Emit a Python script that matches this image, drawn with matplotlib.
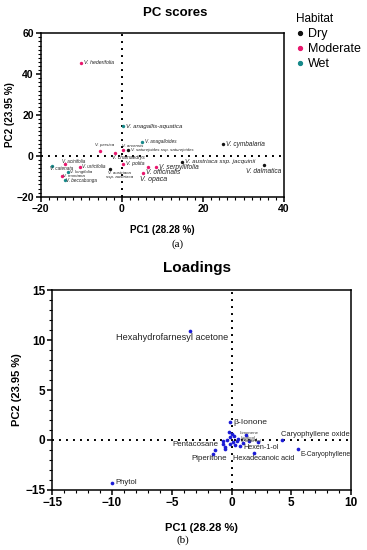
import matplotlib
matplotlib.use('Agg')
import matplotlib.pyplot as plt
import numpy as np
from matplotlib.ticker import MultipleLocator, FixedLocator
from matplotlib.lines import Line2D

plt.rcParams['font.family'] = ['Liberation Sans', 'DejaVu Sans']

# ---- PC scores data ----
sp_names = ['V. hederifolia', 'V. anagallis-aquatica', 'V. anagalloides', 'V. persica',
            'V. arvensis', 'V. saturejoides ssp. saturejoides', 'V. chamaedrys', 'V. polita',
            'V. austriaca\nssp. austriaca', 'V. austriaca ssp. jacquinii', 'V. cymbalaria',
            'V. dalmatica', 'V. serpyllifolia', 'V. officinalis', 'V. opaca', 'V. catenata',
            'V. acinifolia', 'V. urticifolia', 'V. longifolia', 'V. montana', 'V. beccabunga']
sp_x = [-10.0, 0.4, 5.0, -5.5, 0.4, 1.6, -1.6, 0.2, -2.8, 14.8, 24.9, 35.0, 8.5, 6.5, 5.2,
        -17.3, -14.0, -10.4, -13.3, -14.8, -14.1]
sp_y = [45.6, 14.6, 6.6, 2.5, 2.8, 2.8, 1.2, -3.9, -6.2, -2.9, 5.7, -4.7, -5.5, -5.5, -8.6,
        -4.9, -4.2, -5.4, -7.8, -9.8, -11.9]
sp_hab = ['Moderate', 'Wet', 'Wet', 'Moderate', 'Moderate', 'Dry', 'Moderate', 'Moderate',
          'Dry', 'Dry', 'Dry', 'Dry', 'Moderate', 'Moderate', 'Moderate', 'Wet',
          'Moderate', 'Moderate', 'Wet', 'Moderate', 'Wet']
habitats = ['Dry', 'Moderate', 'Wet']

# ---- Loadings data ----
ld_names = ['Hexahydrofarnesyl acetone', 'β-Ionone', 'Caryophyllene oxide', 'E-Caryophyllene',
            'Hexen-1-ol', 'Hexadecanoic acid', 'Pentacosane', 'Piperitone', 'Phytol']
ld_x = [-3.5, -0.1, 4.2, 5.6, 0.7, 1.86, -0.7, -1.54, -10.0]
ld_y = [10.9, 1.8, 0.0, -2.8, -1.9, -3.8, -1.3, -4.2, -13.0]
# unlabelled compounds around the origin
other_x = [0.0, -0.14, -0.42, -0.7, 0.13, 0.42, 0.55, 0.28, -0.14, 2.2, 1.25, -0.56,
           -0.56, -1.4, -0.22, 0.2, 1.5, 0.97]
other_y = [0.6, 0.3, 0.0, -0.3, -0.5, -0.2, 0.1, -1.5, -1.2, -0.5, 0.5, -2.1,
           -2.7, -3.0, 0.8, 0.4, -0.3, -1.0]
small_names = ['Limonene', 'Linalool', 'Nonanal', 'α-Terpineol']
small_x = [0.4, 0.5, 0.6, 0.5]
small_y = [0.7, 0.2, -0.1, -0.3]

colors = {'Dry': '#111111', 'Moderate': '#e8176d', 'Wet': '#16898a'}
blue = '#1b1bd6'

# label layout: (dx, dy) pixels, ha, fontsize
sp_lab = [(3, 0, 'left', 3.8), (3, 0, 'left', 4.4), (3, 1, 'left', 3.3), (5, 5.4, 'center', 3.2),
          (-1.3, 4.3, 'left', 3.2), (2.5, 0, 'left', 3.2), (-3, -4.4, 'left', 3.6),
          (3, 0, 'left', 3.8), (9, -6.4, 'center', 3.2), (3, 0, 'left', 4.5), (3, 0, 'left', 4.7),
          (-0.5, -5.7, 'center', 4.7), (3, 0, 'left', 4.7), (-2, -5.7, 'left', 4.7),
          (-2.6, -6.4, 'left', 5.0), (-1.6, -2.6, 'left', 3.3), (-3, 3.3, 'left', 3.3),
          (2.3, 0, 'left', 3.3), (1.7, -0.6, 'left', 3.2), (1, -0.6, 'left', 3.2),
          (1.7, -0.3, 'left', 3.3)]
ld_lab = [(38.3, -6.7, 'right', 6.6), (3, 0, 'left', 6.1), (-0.7, 6, 'left', 5.4),
          (1.7, -4.7, 'left', 4.9), (3.3, -1, 'left', 5.2), (-21, -5.6, 'left', 5.3),
          (-5, 0, 'right', 5.7), (13.4, -5, 'right', 5.7), (3.3, 0.6, 'left', 5.6)]

fig = plt.figure(figsize=(3.67, 5.5), dpi=100)
dot = (0, (1, 2.6))


def style_axes(ax, fs):
    for s in ax.spines.values():
        s.set_linewidth(1.1)
    ax.tick_params(which='major', direction='out', length=3.5, width=1.1, labelsize=fs, pad=1.5)
    ax.tick_params(which='minor', direction='out', length=2, width=0.8)
    for t in ax.get_xticklabels() + ax.get_yticklabels():
        t.set_fontweight('bold')


# ---------- (a) PC scores ----------
ax1 = fig.add_axes([0.111, 0.6424, 0.663, 0.297])
ax1.axhline(0, color='k', ls=dot, lw=1.4, zorder=1)
ax1.axvline(0, color='k', ls=dot, lw=1.4, zorder=1)
for h in habitats:
    xs = [x for x, hh in zip(sp_x, sp_hab) if hh == h]
    ys = [y for y, hh in zip(sp_y, sp_hab) if hh == h]
    ax1.scatter(xs, ys, s=6, color=colors[h], zorder=3, linewidths=0)
for name, x, y, (dx, dy, ha, fs) in zip(sp_names, sp_x, sp_y, sp_lab):
    ax1.annotate(name, (x, y), xytext=(dx, dy), textcoords='offset pixels', ha=ha,
                 va='center', fontsize=fs, style='italic', color='#222222', zorder=4,
                 linespacing=1.0)
ax1.set_xlim(-20, 40)
ax1.set_ylim(-20, 60)
ax1.set_xticks([-20, 0, 20, 40])
ax1.set_yticks([-20, 0, 20, 40, 60])
ax1.xaxis.set_minor_locator(MultipleLocator(2))
ax1.yaxis.set_minor_locator(MultipleLocator(2))
style_axes(ax1, 7.5)
ax1.set_xlabel('PC1 (28.28 %)', fontsize=7.1, fontweight='bold', labelpad=8)
ax1.set_ylabel('PC2 (23.95 %)', fontsize=7.1, fontweight='bold', labelpad=1)
fig.text(175 / 367, 1 - 13 / 550, 'PC scores', ha='center', va='center', fontsize=9.5,
         fontweight='bold')
handles = [Line2D([], [], ls='', marker='o', ms=2.8, color=colors[h]) for h in habitats]
leg = fig.legend(handles, habitats, title='Habitat', loc='upper left',
                 bbox_to_anchor=(287 / 367, 1 - 4 / 550), frameon=False, fontsize=9,
                 title_fontsize=8.5, handlelength=0.6, handletextpad=0.4, labelspacing=0.25,
                 borderpad=0.2, alignment='left')

fig.text(178 / 367, 1 - 244 / 550, '(a)', ha='center', va='center', fontsize=8,
         family='Liberation Serif')

# ---------- (b) Loadings ----------
def fwd(v):
    v = np.asarray(v, dtype=float)
    return np.where(v < 0, v / 3.0, v)


def inv(u):
    u = np.asarray(u, dtype=float)
    return np.where(u < 0, u * 3.0, u)


ax2 = fig.add_axes([0.1425, 0.1091, 0.814, 0.3636])
ax2.set_yscale('function', functions=(fwd, inv))
ax2.axhline(0, color='k', ls=dot, lw=1.4, zorder=1)
ax2.axvline(0, color='k', ls=dot, lw=1.4, zorder=1)
ax2.scatter(other_x, other_y, s=7, color=blue, zorder=3, linewidths=0)
ax2.scatter(ld_x, ld_y, s=7, color=blue, zorder=3, linewidths=0)
for name, x, y in zip(small_names, small_x, small_y):
    ax2.annotate(name, (x, y), xytext=(3, 0), textcoords='offset pixels', ha='left',
                 va='center', fontsize=3.2, color='#444444', zorder=4)
for name, x, y, (dx, dy, ha, fs) in zip(ld_names, ld_x, ld_y, ld_lab):
    ax2.annotate(name, (x, y), xytext=(dx, dy), textcoords='offset pixels', ha=ha,
                 va='center', fontsize=fs, color='#222222', zorder=4)
ax2.set_xlim(-15, 10)
ax2.set_ylim(-15, 15)
ax2.set_xticks([-15, -10, -5, 0, 5, 10])
ax2.set_yticks([-15, 0, 5, 10, 15])
ax2.xaxis.set_minor_locator(MultipleLocator(1))
ax2.yaxis.set_minor_locator(FixedLocator([-12, -9, -6, -3] +
                                         [v for v in range(1, 15) if v % 5]))
style_axes(ax2, 8.5)
ax2.set_xlabel('PC1 (28.28 %)', fontsize=8, fontweight='bold', labelpad=10)
ax2.set_ylabel('PC2 (23.95 %)', fontsize=8, fontweight='bold', labelpad=2)
fig.text(197 / 367, 1 - 268 / 550, 'Loadings', ha='center', va='center', fontsize=11,
         fontweight='bold')
fig.text(183 / 367, 1 - 540 / 550, '(b)', ha='center', va='center', fontsize=8,
         family='Liberation Serif')

fig.savefig('out.png', dpi=100)
